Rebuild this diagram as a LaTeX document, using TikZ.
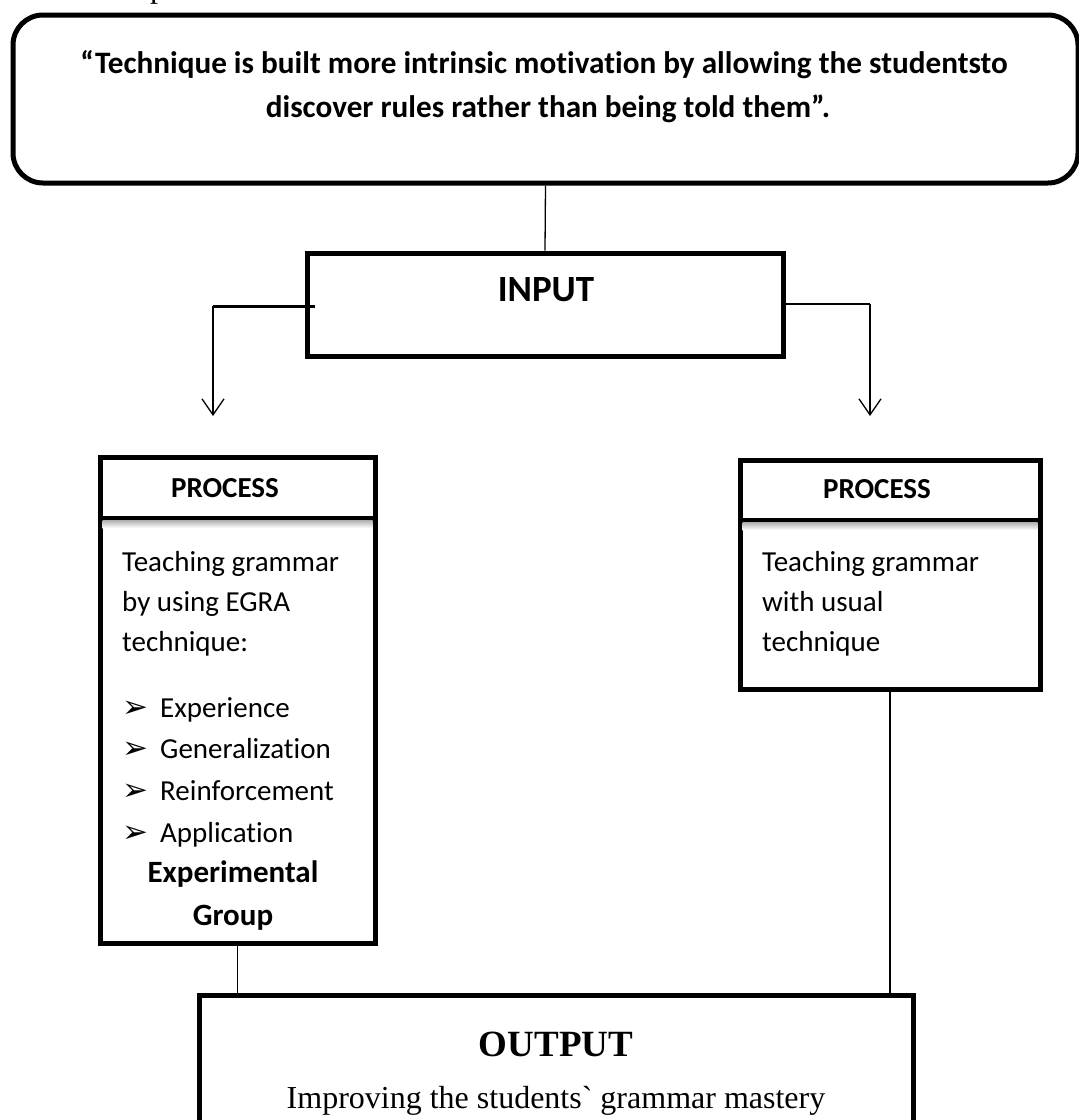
\documentclass[tikz,border=0pt]{standalone}
\usepackage{fontspec}
\setmainfont{Carlito}[Ligatures=NoCommon]
\newfontfamily\tnr{Liberation Serif}
\newfontfamily\dvs{DejaVu Sans}
\usetikzlibrary{arrows.meta}
\begin{document}
\begin{tikzpicture}[x=1pt,y=-1pt,
  box/.style={draw, line width=5pt, inner sep=0pt, fill=white},
  conn/.style={line width=1.3pt},
  arr/.style={conn, -{Straight Barb[length=16pt,width=22pt,line width=1.3pt]}},
  txt/.style={anchor=base west, inner sep=0pt, font=\fontsize{29}{34}\selectfont},
  btxt/.style={anchor=base, inner sep=0pt, font=\fontsize{31}{36}\selectfont\bfseries},
  hdr/.style={anchor=base, inner sep=0pt, font=\fontsize{29}{34}\selectfont\bfseries},
  bul/.style={anchor=base west, inner sep=0pt, font=\fontsize{31}{34}\dvs},
  sep/.style={top color=black!30, bottom color=white, draw=none}
]
\useasboundingbox (0,0) rectangle (1079,1120);

% cut-off fragment at the top
\node[anchor=base, inner sep=0pt, font=\fontsize{32}{36}\tnr] (cutp) at (158,-3) {p};

% quote box
\node[box, rounded corners=30pt, minimum width=1065pt, minimum height=168pt] (quote) at (545.5,99) {};
\node[anchor=base, inner sep=0pt, font=\fontsize{31.2}{36}\selectfont\bfseries] (q1) at (544,73) {“Technique is built more intrinsic motivation by allowing the studentsto};
\node[anchor=base, inner sep=0pt, font=\fontsize{31.2}{36}\selectfont\bfseries] (q2) at (548,117) {discover rules rather than being told them”.};

% input box
\node[box, minimum width=476pt, minimum height=103pt] (input) at (545,304.5) {};
\node[anchor=base, inner sep=0pt, font=\fontsize{37}{40}\selectfont\bfseries] (inputtext) at (546,301) {INPUT};

\draw[conn] (quote.south) -- (input.north);

% connectors from input
\coordinate (lstart) at (315,306);
\coordinate (lcorner) at (213,306);
\coordinate (lend) at (213,416);
\coordinate (rcorner) at (870,304);
\coordinate (rend) at (870,416);
\draw[line width=3pt] (lstart) -- (lcorner);
\draw[arr] (lcorner) -- (lend);
\draw[conn] (input.east |- rcorner) -- (rcorner);
\draw[arr] (rcorner) -- (rend);

% left process
\node[box, minimum width=275pt, minimum height=425pt] (lbody) at (237.5,730.5) {};
\node[box, minimum width=275pt, minimum height=61pt] (lhead) at (237.5,487.5) {};
\shade[sep] (102.5,520.5) rectangle (372.5,528);
\node[hdr] (lhtext) at (225,497) {PROCESS};
\node[txt] (l1) at (122,571) {Teaching grammar};
\node[txt] (l2) at (122,611) {by using EGRA};
\node[txt] (l3) at (122,651) {technique:};
\node[bul] (b1) at (122,717) {➢};
\node[txt] (e1) at (160,717) {Experience};
\node[bul] (b2) at (122,758.5) {➢};
\node[txt] (e2) at (160,758.5) {Generalization};
\node[bul] (b3) at (122,800) {➢};
\node[txt] (e3) at (160,800) {Reinforcement};
\node[bul] (b4) at (122,842) {➢};
\node[txt] (e4) at (160,842) {Application};
\node[btxt] (g1) at (233,882) {Experimental};
\node[btxt] (g2) at (233,925) {Group};

% right process
\node[box, minimum width=300pt, minimum height=169pt] (rbody) at (890,604.5) {};
\node[box, minimum width=300pt, minimum height=60pt] (rhead) at (890,490) {};
\shade[sep] (742.5,522.5) rectangle (1037.5,530);
\node[hdr] (rhtext) at (877,498) {PROCESS};
\node[txt] (r1) at (762,571) {Teaching grammar};
\node[txt] (r2) at (762,611) {with usual};
\node[txt] (r3) at (762,651) {technique};

% output
\node[box, minimum width=714pt, minimum height=140pt] (output) at (556,1065) {};
\node[anchor=base, inner sep=0pt, font=\fontsize{37}{40}\tnr\bfseries] (otitle) at (556,1056) {OUTPUT};
\node[anchor=base, inner sep=0pt, font=\fontsize{32}{36}\tnr] (otext) at (556,1108) {Improving the students` grammar mastery};

\draw[conn] (lbody.south) -- (lbody.south |- output.north);
\draw[conn] (rbody.south) -- (rbody.south |- output.north);
\end{tikzpicture}
\end{document}
